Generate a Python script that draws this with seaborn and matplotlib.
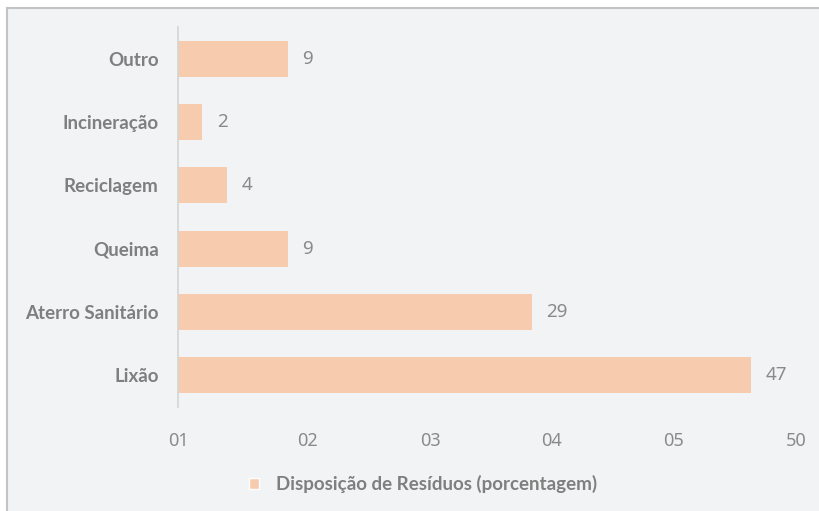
import matplotlib
matplotlib.use("Agg")
import matplotlib.pyplot as plt
import matplotlib.transforms as mtransforms
from matplotlib.patches import Patch, Rectangle
import pandas as pd
import seaborn as sns

categorias = ["Outro", "Incineração", "Reciclagem", "Queima", "Aterro Sanitário", "Lixão"]
valores = [9, 2, 4, 9, 29, 47]
ticks_x = [0, 10, 20, 30, 40, 50]
rotulos_x = ["01", "02", "03", "04", "05", "50"]
serie = "Disposição de Resíduos (porcentagem)"

df = pd.DataFrame({"categoria": categorias, "valor": valores})

sns.set_style("white")
plt.rcParams["font.family"] = ["Lato", "DejaVu Sans"]
num_font = ["Noto Sans", "DejaVu Sans"]

fundo = "#f2f3f5"
cor_barra = "#f7cbad"
cinza = "#7f7f7f"
cinza_num = "#8a8a8a"

fig = plt.figure(figsize=(8.2, 5.11), dpi=100)
fig.patch.set_facecolor("white")
fig.add_artist(Rectangle((7 / 820, -0.01), 1.0, 1 - 8 / 511 + 0.01, transform=fig.transFigure,
                         facecolor=fundo, edgecolor="#c3c3c3", linewidth=1.5, zorder=0))

ax = fig.add_axes([178 / 820, 104 / 511, 610 / 820, 380 / 511])
ax.set_facecolor("none")

sns.barplot(data=df, x="valor", y="categoria", order=categorias, color=cor_barra,
            width=0.57, saturation=1, linewidth=0, ax=ax)

for p, v in zip(ax.patches, valores):
    ax.text(p.get_width() + 1.2, p.get_y() + p.get_height() / 2, str(v),
            va="center", ha="left", fontsize=13.5, color=cinza_num, family=num_font)

ax.set_xlim(0, 50)
ax.set_ylim(5.5, -0.5)
ax.set_xticks(ticks_x)
ax.set_xticklabels(rotulos_x)
ax.set_xlabel("")
ax.set_ylabel("")
ax.tick_params(axis="x", length=0, pad=18, labelsize=13, labelcolor=cinza_num)
ax.tick_params(axis="y", length=0, pad=14, labelsize=13.5)
for lbl in ax.get_xticklabels():
    lbl.set_family(num_font)
for lbl in ax.get_yticklabels():
    lbl.set_fontweight("bold")
    lbl.set_color(cinza)
desloc = mtransforms.ScaledTranslation(8 / 100, 0, fig.dpi_scale_trans)
for lbl in ax.get_xticklabels()[1:]:
    lbl.set_transform(lbl.get_transform() + desloc)

for s in ["top", "right", "bottom"]:
    ax.spines[s].set_visible(False)
ax.spines["left"].set_color("#d4d4d4")
ax.spines["left"].set_linewidth(1.2)

leg = fig.legend(handles=[Patch(facecolor=cor_barra, label=serie)], loc="center",
                 bbox_to_anchor=(423 / 820, 1 - 484 / 511), frameon=False,
                 handlelength=0.55, handleheight=0.55, handletextpad=0.9,
                 prop={"weight": "bold", "size": 13.5})
for t in leg.get_texts():
    t.set_color(cinza)

fig.savefig("out.png", dpi=100)
